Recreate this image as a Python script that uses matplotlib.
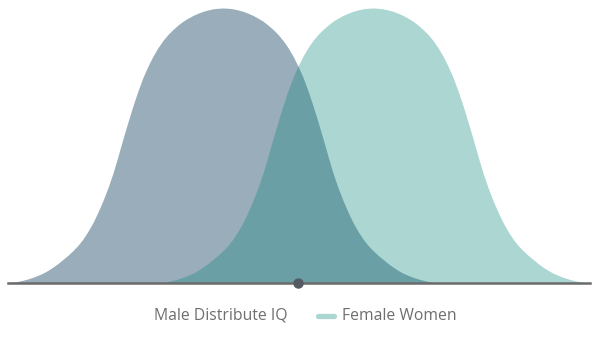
import matplotlib

matplotlib.use("Agg")
import matplotlib.pyplot as plt  # noqa: E402
import numpy as np  # noqa: E402
from matplotlib.lines import Line2D  # noqa: E402

# Score axis (arbitrary IQ-like units, sampled every half point) and the
# relative density read off the picture
male_x = np.arange(70.5, 113.6, 0.5)
male_y = [
    0.001, 0.003, 0.006, 0.010, 0.015, 0.021, 0.028, 0.036, 0.046, 0.058, 0.071,
    0.086, 0.101, 0.118, 0.137, 0.160, 0.188, 0.220, 0.258, 0.300, 0.347, 0.400,
    0.461, 0.525, 0.586, 0.645, 0.699, 0.748, 0.789, 0.825, 0.856, 0.882, 0.904,
    0.922, 0.938, 0.952, 0.963, 0.973, 0.981, 0.988, 0.993, 0.997, 0.999,
    1.000,
    0.999, 0.997, 0.993, 0.988, 0.981, 0.973, 0.963, 0.952, 0.938, 0.922, 0.904,
    0.882, 0.856, 0.825, 0.789, 0.748, 0.699, 0.645, 0.586, 0.525, 0.461, 0.400,
    0.347, 0.300, 0.258, 0.220, 0.188, 0.160, 0.137, 0.118, 0.101, 0.086, 0.071,
    0.058, 0.046, 0.036, 0.028, 0.021, 0.015, 0.010, 0.006, 0.003, 0.001,
]
female_x = np.arange(85.5, 128.6, 0.5)
female_y = [
    0.001, 0.003, 0.006, 0.010, 0.015, 0.021, 0.028, 0.036, 0.046, 0.058, 0.071,
    0.086, 0.101, 0.118, 0.137, 0.160, 0.188, 0.220, 0.258, 0.300, 0.347, 0.400,
    0.461, 0.525, 0.586, 0.645, 0.699, 0.748, 0.789, 0.825, 0.856, 0.882, 0.904,
    0.922, 0.938, 0.952, 0.963, 0.973, 0.981, 0.988, 0.993, 0.997, 0.999,
    1.000,
    0.999, 0.997, 0.993, 0.988, 0.981, 0.973, 0.963, 0.952, 0.938, 0.922, 0.904,
    0.882, 0.856, 0.825, 0.789, 0.748, 0.699, 0.645, 0.586, 0.525, 0.461, 0.400,
    0.347, 0.300, 0.258, 0.220, 0.188, 0.160, 0.137, 0.118, 0.101, 0.086, 0.071,
    0.058, 0.046, 0.036, 0.028, 0.021, 0.015, 0.010, 0.006, 0.003, 0.001,
]
midpoint_x = 99.5
labels = ["Male Distribute IQ", "Female Women"]

MALE_COLOR = "#9aadbb"
FEMALE_COLOR = "#118a7e"
FEMALE_SWATCH = "#acd6d2"
TEXT_COLOR = "#6e6e6e"

fig = plt.figure(figsize=(6.0, 3.37), dpi=100)
W, H = 600, 337
ax = fig.add_axes([8 / W, 1 - 283 / H, (590 - 8) / W, (283 - 8) / H])

ax.fill_between(male_x, 0, male_y, color=MALE_COLOR, linewidth=0, zorder=2)
ax.fill_between(female_x, 0, female_y, color=FEMALE_COLOR, alpha=0.35, linewidth=0, zorder=3)

# baseline and centre marker
ax.axhline(0, color="#6b6b6b", linewidth=1.8, zorder=4, clip_on=False)
ax.plot([midpoint_x], [0], "o", color="#555b62", markersize=6.5, zorder=5, clip_on=False)

ax.set_xlim(70.5, 128.7)
ax.set_ylim(0, 1.0)
ax.axis("off")

# legend row
fy = 1 - 316 / H
fig.text(154 / W, fy, labels[0], fontsize=11.3, color=TEXT_COLOR, family="Open Sans",
         va="center", ha="left")
fig.add_artist(Line2D([318 / W, 334 / W], [fy + 0.5 / H, fy + 0.5 / H], lw=3.8,
                      color=FEMALE_SWATCH, solid_capstyle="round"))
fig.text(342 / W, fy, labels[1], fontsize=11.3, color=TEXT_COLOR, family="Open Sans",
         va="center", ha="left")

fig.savefig("out.png", dpi=100)
plt.close(fig)
